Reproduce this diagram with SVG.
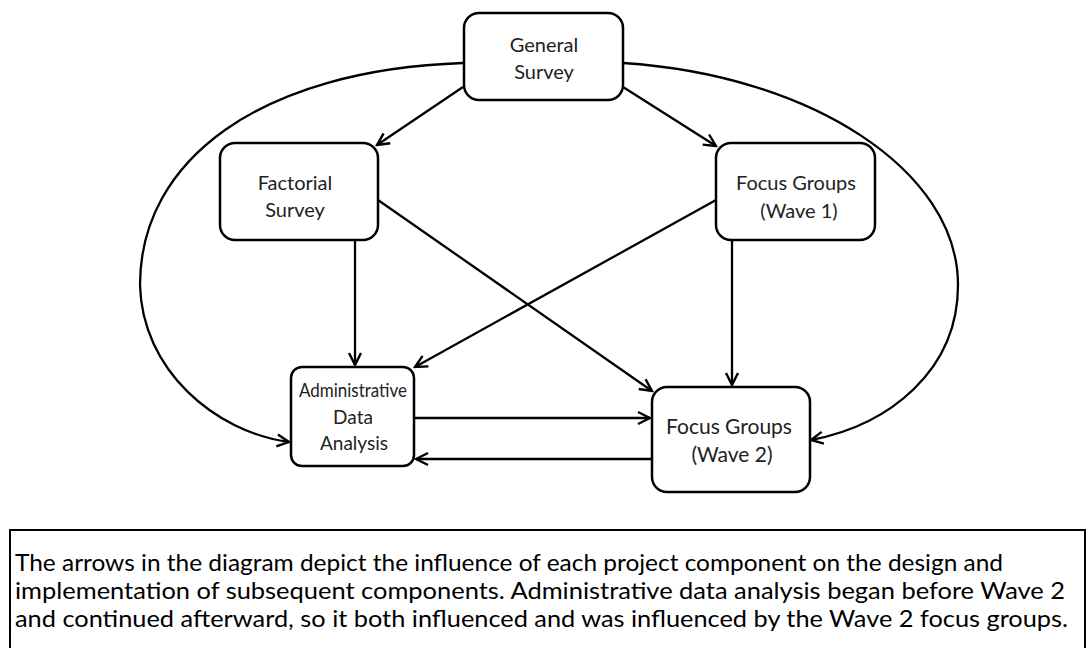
<svg xmlns="http://www.w3.org/2000/svg" width="1086" height="648" viewBox="0 0 1086 648">
<style>
.box{fill:#fff;stroke:#000;stroke-width:2.5}
.lbl{font-family:"Lato","Open Sans","Liberation Sans",sans-serif;font-size:20px;fill:#222;text-anchor:middle}
.sm{font-size:19px}
.lg{font-size:21px}
.con{fill:none;stroke:#000;stroke-width:2.3}
.desc{font-family:"Lato","Open Sans","Liberation Sans",sans-serif;font-size:23px;fill:#000}
</style>
<defs>
<marker id="ah" viewBox="0 0 16 16" refX="14" refY="8" markerWidth="16" markerHeight="16" markerUnits="userSpaceOnUse" orient="auto">
<path d="M2,2 L14,8 L2,14" fill="none" stroke="#000" stroke-width="2.4"/>
</marker>
</defs>
<g id="connectors">
<path class="con" d="M463,63 C260,70 140,160 140,285 C142,370 215,432 289,442" marker-end="url(#ah)"/>
<path class="con" d="M623,63 C810,75 958,170 958,285 C958,370 890,425 811,440" marker-end="url(#ah)"/>
<path class="con" d="M463,87 L377,145" marker-end="url(#ah)"/>
<path class="con" d="M623,87 L716,146" marker-end="url(#ah)"/>
<path class="con" d="M355,240 L355,365" marker-end="url(#ah)"/>
<path class="con" d="M378,200 L652,391" marker-end="url(#ah)"/>
<path class="con" d="M716,200 L415,367" marker-end="url(#ah)"/>
<path class="con" d="M732,240 L732,385" marker-end="url(#ah)"/>
<path class="con" d="M414,418 L650,418" marker-end="url(#ah)"/>
<path class="con" d="M652,459 L416,459" marker-end="url(#ah)"/>
</g>
<g id="general-survey">
<rect class="box" x="464" y="13" width="159" height="87" rx="15"/>
<text class="lbl" x="544" y="52">General</text>
<text class="lbl" x="544" y="79">Survey</text>
</g>
<g id="factorial-survey">
<rect class="box" x="220" y="143" width="158" height="97" rx="15"/>
<text class="lbl" x="295" y="190">Factorial</text>
<text class="lbl" x="295" y="217">Survey</text>
</g>
<g id="focus-groups-wave1">
<rect class="box" x="716" y="143" width="159" height="97" rx="15"/>
<text class="lbl" x="796" y="190">Focus Groups</text>
<text class="lbl" x="799" y="218">(Wave 1)</text>
</g>
<g id="admin-data">
<rect class="box" x="291" y="367" width="123" height="99" rx="11"/>
<text class="lbl sm" x="353" y="397" textLength="108" lengthAdjust="spacingAndGlyphs">Administrative</text>
<text class="lbl sm" x="353" y="424">Data</text>
<text class="lbl sm" x="354" y="450">Analysis</text>
</g>
<g id="focus-groups-wave2">
<rect class="box" x="652" y="387" width="158" height="105" rx="15"/>
<text class="lbl lg" x="729" y="434">Focus Groups</text>
<text class="lbl lg" x="732" y="462">(Wave 2)</text>
</g>
<g id="note">
<rect x="10" y="530" width="1075" height="140" fill="#fff" stroke="#000" stroke-width="2"/>
<text class="desc" x="15" y="571" textLength="988" lengthAdjust="spacingAndGlyphs">The arrows in the diagram depict the influence of each project component on the design and</text>
<text class="desc" x="15" y="599" textLength="1050" lengthAdjust="spacingAndGlyphs">implementation of subsequent components. Administrative data analysis began before Wave 2</text>
<text class="desc" x="15" y="627" textLength="1053" lengthAdjust="spacingAndGlyphs">and continued afterward, so it both influenced and was influenced by the Wave 2 focus groups.</text>
</g>
</svg>
